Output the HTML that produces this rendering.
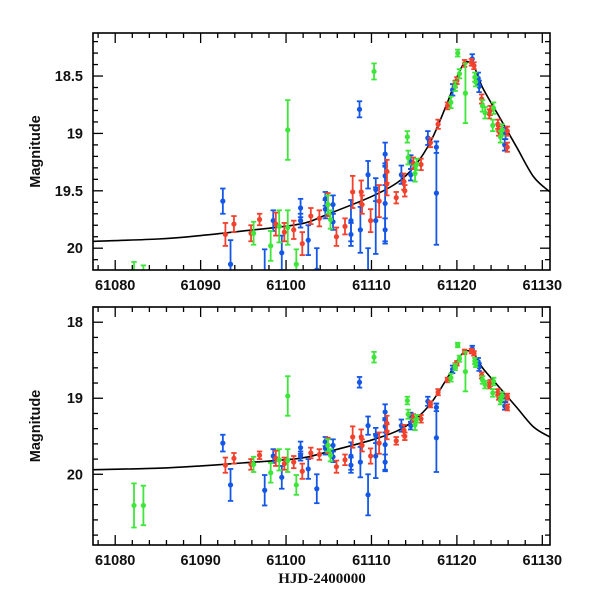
<!DOCTYPE html>
<html><head><meta charset="utf-8"><style>
html,body{margin:0;padding:0;background:#fff;}
svg{display:block;font-family:"Liberation Sans",sans-serif;}
</style></head><body>
<svg id="chart" width="600" height="600" viewBox="0 0 600 600" xmlns="http://www.w3.org/2000/svg"></svg>
<script>
// ---- data ----
const blueT=[61092.6,61093.5,61097.5,61098.5,61099.5,61101.7,61101.7,61102.6,61103.6,61104.6,61104.6,61105.5,61105.5,61107.6,61107.6,61108.6,61108.7,61109.6,61109.6,61110.5,61110.5,61111.6,61111.6,61111.6,61111.6,61113.5,61114.6,61114.6,61116.6,61117.6,61117.6,61119.5,61121.8,61122.5,61122.6,61125.6,61125.7];
const blueM=[19.59,20.14,20.21,19.76,20.04,19.65,19.76,19.93,20.19,19.66,19.57,19.62,19.77,19.76,19.88,18.79,19.84,19.36,20.27,19.76,19.49,19.37,19.61,19.84,19.18,19.36,19.25,19.36,19.04,19.12,19.52,18.62,18.35,18.52,18.59,19.10,19.00];
const blueE=[0.11,0.21,0.2,0.09,0.15,0.08,0.06,0.13,0.19,0.08,0.06,0.08,0.07,0.18,0.1,0.07,0.2,0.12,0.27,0.29,0.1,0.08,0.35,0.1,0.1,0.08,0.06,0.05,0.06,0.05,0.45,0.05,0.04,0.05,0.05,0.05,0.05];
const redT=[61092.9,61093.9,61095.9,61096.9,61098.8,61099.8,61100.9,61101.9,61102.9,61103.9,61104.9,61105.9,61106.9,61107.8,61108.8,61108.9,61109.9,61110.9,61111.8,61111.8,61112.9,61113.8,61113.9,61114.9,61115.8,61116.9,61117.8,61118.9,61119.8,61120.0,61120.9,61121.7,61122.0,61122.9,61123.8,61123.9,61124.8,61124.9,61125.9,61125.9];
const redM=[19.88,19.79,19.87,19.75,19.79,19.86,19.84,19.96,19.72,19.74,19.62,19.90,19.81,19.51,19.51,19.62,19.76,19.59,19.33,19.44,19.56,19.42,19.50,19.26,19.27,19.08,18.92,18.76,18.57,18.54,18.39,18.38,18.41,18.70,18.83,18.80,18.92,18.98,18.98,19.12];
const redE=[0.1,0.07,0.07,0.05,0.1,0.08,0.08,0.1,0.07,0.07,0.1,0.08,0.07,0.14,0.1,0.08,0.1,0.14,0.1,0.1,0.05,0.07,0.05,0.05,0.05,0.04,0.04,0.03,0.03,0.03,0.03,0.03,0.03,0.04,0.04,0.04,0.04,0.04,0.04,0.04];
const greenT=[61082.2,61083.3,61096.2,61098.2,61099.2,61100.2,61100.2,61101.2,61104.9,61105.2,61110.3,61114.2,61114.3,61115.1,61115.3,61119.3,61119.8,61120.1,61120.3,61121.0,61122.1,61122.2,61123.0,61123.3,61124.3,61124.2,61125.1,61125.3];
const greenM=[20.41,20.41,19.87,19.98,19.81,18.97,19.82,20.14,19.62,19.75,18.46,19.03,19.21,19.35,19.27,18.73,18.59,18.30,18.48,18.65,18.51,18.55,18.76,18.82,18.78,18.93,19.03,18.97];
const greenE=[0.29,0.26,0.1,0.13,0.14,0.26,0.15,0.13,0.08,0.08,0.07,0.05,0.06,0.07,0.05,0.05,0.04,0.03,0.04,0.26,0.04,0.04,0.05,0.05,0.05,0.05,0.05,0.05];
// model curve knots
const modelT=[61077.4,61085,61090,61095,61101.6,61105,61110,61113,61115,61117,61119,61120,61121,61122,61123,61125,61127,61129,61130.9];
const modelM=[19.94,19.92,19.89,19.85,19.79,19.70,19.55,19.43,19.29,19.06,18.71,18.51,18.38,18.42,18.60,18.86,19.12,19.38,19.51];
const xTicks=[61080,61090,61100,61110,61120,61130];
const topYTicks=["18.5","19","19.5","20"];
const botYTicks=["18","19","20"];

const NS="http://www.w3.org/2000/svg";
const svg=document.getElementById('chart');
function el(tag,attrs,parent){const e=document.createElementNS(NS,tag);for(const k in attrs)e.setAttribute(k,attrs[k]);(parent||svg).appendChild(e);return e;}
const X0=93,X1=550,T0=61077.4,T1=61130.9;
const xs=t=>X0+(t-T0)*(X1-X0)/(T1-T0);

const panels=[
 {name:'top',y0:33,y1:270,mTop:18.125,mBot:20.19,major:0.5,minor:0.1,labels:topYTicks},
 {name:'bottom',y0:307,y1:545,mTop:17.8,mBot:20.93,major:1,minor:0.2,labels:botYTicks}
];
const series=[
 {name:'blue',color:'#1457e6',t:blueT,m:blueM,e:blueE},
 {name:'red',color:'#f2412d',t:redT,m:redM,e:redE},
 {name:'green',color:'#3ee63a',t:greenT,m:greenM,e:greenE}
];
panels.forEach((p,pi)=>{
 const ys=m=>p.y0+(m-p.mTop)*(p.y1-p.y0)/(p.mBot-p.mTop);
 const g=el('g',{});
 
 
 const cp=el('clipPath',{id:'clip'+pi},g);
 el('rect',{x:X0,y:p.y0,width:X1-X0,height:p.y1-p.y0},cp);
 const plot=el('g',{'clip-path':'url(#clip'+pi+')'},g);
 // model curve (Catmull-Rom)
 const pts=modelT.map((t,i)=>[xs(t),ys(modelM[i])]);
 let d='M'+pts[0][0]+','+pts[0][1];
 for(let i=0;i<pts.length-1;i++){
  const p0=pts[Math.max(0,i-1)],p1=pts[i],p2=pts[i+1],p3=pts[Math.min(pts.length-1,i+2)];
  const c1=[p1[0]+(p2[0]-p0[0])/6,p1[1]+(p2[1]-p0[1])/6];
  const c2=[p2[0]-(p3[0]-p1[0])/6,p2[1]-(p3[1]-p1[1])/6];
  d+=' C'+c1.join(',')+' '+c2.join(',')+' '+p2.join(',');
 }
 const curve=el('path',{d:d,fill:'none',stroke:'#000','stroke-width':1.6},plot);
 
 
 series.forEach(s=>{
  const sg=el('g',{stroke:s.color,fill:s.color,'stroke-width':1.8},plot);
  
  
  s.t.forEach((t,i)=>{
   const x=xs(t),y=ys(s.m[i]),ya=ys(s.m[i]-s.e[i]),yb=ys(s.m[i]+s.e[i]);
   const pg=el('g',{},sg);
   
   
   el('line',{x1:x,x2:x,y1:ya,y2:yb},pg);
   el('line',{x1:x-2.7,x2:x+2.7,y1:ya,y2:ya},pg);
   el('line',{x1:x-2.7,x2:x+2.7,y1:yb,y2:yb},pg);
   el('circle',{cx:x,cy:y,r:2.6,stroke:'none'},pg);
  });
 });
 // frame
 const fr=el('rect',{x:X0,y:p.y0,width:X1-X0,height:p.y1-p.y0,fill:'none',stroke:'#000','stroke-width':1.6},g);
 
 
 // x ticks
 for(let t=61078;t<=61130;t+=2){
  const x=xs(t),L=(t%10===0)?10:5;
  el('line',{x1:x,x2:x,y1:p.y1,y2:p.y1-L,stroke:'#000','stroke-width':1.3},g);
  el('line',{x1:x,x2:x,y1:p.y0,y2:p.y0+L,stroke:'#000','stroke-width':1.3},g);
 }
 xTicks.forEach(t=>{
  const tx=el('text',{x:xs(t),y:p.y1+20,'text-anchor':'middle','font-size':14.5,'font-weight':'bold',fill:'#111'},g);
  tx.textContent=t;
  
  
 });
 // y ticks
 const nMin=Math.ceil(p.mTop/p.minor-1e-6),nMax=Math.floor(p.mBot/p.minor+1e-6);
 for(let n=nMin;n<=nMax;n++){
  const m=n*p.minor,y=ys(m);
  const isMaj=Math.abs(m/p.major-Math.round(m/p.major))<1e-6;
  const L=isMaj?10:5;
  el('line',{x1:X0,x2:X0+L,y1:y,y2:y,stroke:'#000','stroke-width':1.3},g);
  el('line',{x1:X1,x2:X1-L,y1:y,y2:y,stroke:'#000','stroke-width':1.3},g);
 }
 p.labels.forEach(lab=>{
  const tx=el('text',{x:X0-10,y:ys(parseFloat(lab))+5,'text-anchor':'end','font-size':14.5,'font-weight':'bold',fill:'#111'},g);
  tx.textContent=lab;
  
  
 });
 const cy=(p.y0+p.y1)/2;
 const yt=el('text',{x:40,y:cy,'text-anchor':'middle','font-size':14.5,'font-weight':'bold',fill:'#111',transform:'rotate(-90 40 '+cy+')'},g);
 yt.textContent='Magnitude';
 
 
});
const xt=el('text',{x:322,y:583,'text-anchor':'middle','font-size':15,'font-weight':'bold',fill:'#111','font-family':'"Liberation Serif",serif'});
xt.textContent='HJD-2400000';


</script>
</body></html>
